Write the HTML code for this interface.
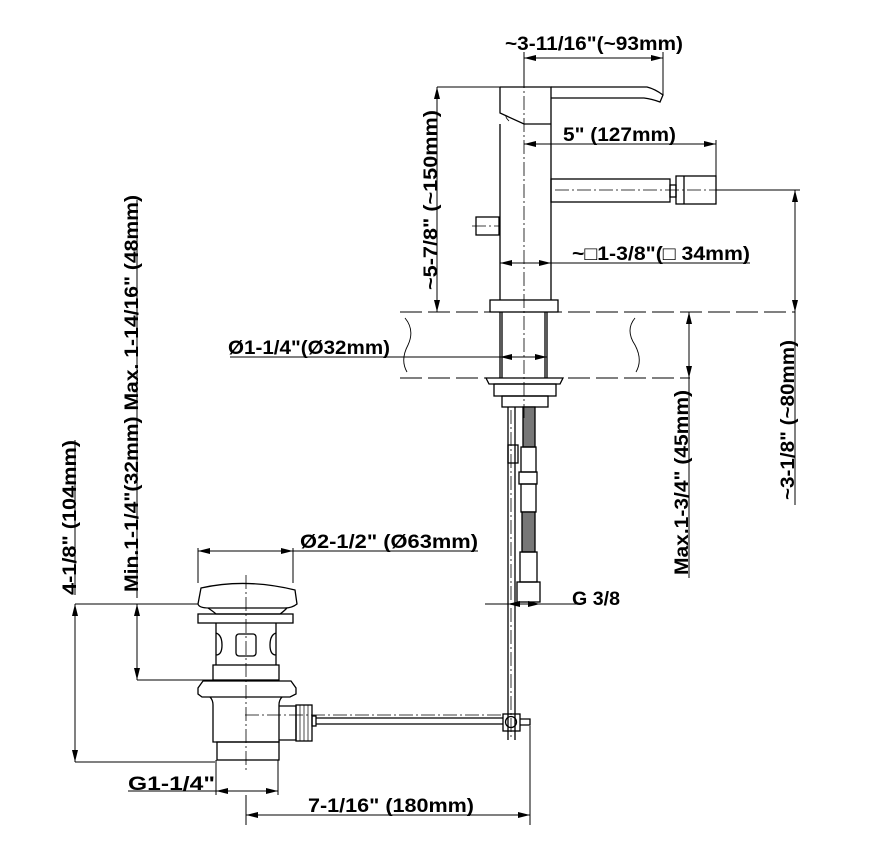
<!DOCTYPE html>
<html><head><meta charset="utf-8"><style>
html,body{margin:0;padding:0;background:#fff;}
svg{display:block}
text{font-family:"Liberation Sans",Arial,sans-serif;font-weight:bold;font-size:19px;fill:#000}
</style></head><body>
<svg width="885" height="850" viewBox="0 0 885 850" xmlns="http://www.w3.org/2000/svg">
<defs>
<marker id="a" viewBox="0 0 12 6" refX="12" refY="3" markerWidth="12" markerHeight="6" orient="auto-start-reverse" markerUnits="userSpaceOnUse"><path d="M0,0 L12,3 L0,6z" fill="#000"/></marker>
</defs>
<g fill="none" stroke="#000" stroke-width="1.3">
<path d="M500,87 H551 V300 M500,87 V113 L524,124 H551 M500,124 V300"/>
<path d="M551,87 H647 Q655,89 663,95 L660,102 Q652,99 644,98 H551"/>
<path d="M509,121 Q505,117 506,115" stroke-width="0.8"/>
<rect x="551" y="179" width="119" height="23"/>
<rect x="670" y="185" width="6" height="12"/>
<rect x="676" y="176" width="40" height="28"/>
<line x1="684" y1="176" x2="684" y2="204"/>
<rect x="476" y="217" width="23" height="18"/>
<rect x="490" y="300" width="68" height="12"/>
<path d="M500,312 V378 M502,312 V378 M545,312 V378 M547,312 V378"/>
<path d="M486,378 H563 L560,384 H489 Z"/>
<rect x="494" y="384" width="62" height="12"/>
<rect x="502" y="396" width="46" height="11"/>
<path d="M400,312 H795 M400,378 H690" stroke-dasharray="22,6" stroke-width="1"/>
<path d="M405,318 Q415,330 408,345 Q400,360 407,372 M635,318 Q625,330 635,345 Q643,360 636,372" stroke-width="0.9"/>
<path d="M508,407 V740 M515,407 V740"/>
<rect x="508" y="445" width="10" height="18"/>
<rect x="523" y="407" width="12" height="40" fill="#777" stroke="#000"/>
<rect x="521" y="447" width="15" height="25"/>
<rect x="519" y="472" width="18" height="12"/>
<rect x="521" y="484" width="15" height="28"/>
<rect x="522" y="512" width="13" height="40" fill="#777" stroke="#000"/>
<rect x="520" y="552" width="17" height="30"/>
<rect x="517" y="582" width="23" height="20"/>
<path d="M201,588 Q246,578 295,590 L297,604 Q292,608 285,608 H209 Q199,608 198,604 Z"/>
<path d="M208,608 Q214,612 216,614 H280 Q283,612 287,608"/>
<rect x="198" y="614" width="95" height="9"/>
<path d="M216,623 V665 M276,623 V665 M216,633 Q222,635 222,645 Q222,655 216,655 M276,633 Q270,635 270,645 Q270,655 276,655"/>
<rect x="236" y="634" width="20" height="22" rx="3"/>
<rect x="213" y="665" width="66" height="15"/>
<path d="M203,681 H291 L296,688 V694 L290,697 H202 L198,694 V688 Z"/>
<path d="M210,697 Q213,700 213,705 V742 H279 V705 Q279,700 282,697"/>
<rect x="217" y="742" width="62" height="18"/>
<path d="M279,706 H296 V740 H279"/>
<rect x="296" y="705" width="16" height="36"/>
<path d="M300,705 V741 M304,705 V741 M308,705 V741" stroke-width="0.7"/>
<rect x="312" y="716" width="4" height="10"/>
<path d="M316,718 H503 M316,724 H503"/>
<rect x="503" y="714" width="17" height="17"/>
<circle cx="511" cy="722" r="5.5"/>
<path d="M520,719 H530 V725 H520"/>
</g>
<g stroke="#000" stroke-width="0.8" stroke-dasharray="14,3,2,3" fill="none">
<path d="M524,52 V420 M555,190 H716 M472,226 H499 M246,575 V770 M245,715 H503 M511,410 V740"/>
</g>
<g stroke="#000" stroke-width="1" fill="none">
<path d="M524,52 V88 M663,52 V95 M716,140 V176 M437,87 H500 M716,190 H800 M750,263 H551 M230,357 H500 M485,604 H508 M540,604 H580 M198,548 V583 M293,548 V583 M75,604 H198 M75,762 H215 M137,680 H215 M246,795 V825 M530,726 V825 M216,760 V795 M278,760 V795 M795,312 V505 M689,378 V578"/>
<line x1="524" y1="58" x2="663" y2="58" marker-start="url(#a)" marker-end="url(#a)"/>
<line x1="524" y1="144" x2="716" y2="144" marker-start="url(#a)" marker-end="url(#a)"/>
<line x1="500" y1="263" x2="551" y2="263" marker-start="url(#a)" marker-end="url(#a)"/>
<line x1="437" y1="87" x2="437" y2="312" marker-start="url(#a)" marker-end="url(#a)"/>
<line x1="795" y1="190" x2="795" y2="312" marker-start="url(#a)" marker-end="url(#a)"/>
<line x1="689" y1="312" x2="689" y2="378" marker-start="url(#a)" marker-end="url(#a)"/>
<line x1="500" y1="357" x2="547" y2="357" marker-start="url(#a)" marker-end="url(#a)"/>
<line x1="508" y1="604" x2="540" y2="604" marker-start="url(#a)" marker-end="url(#a)"/>
<path d="M293,551 H478"/>
<line x1="198" y1="551" x2="293" y2="551" marker-start="url(#a)" marker-end="url(#a)"/>
<line x1="75" y1="604" x2="75" y2="762" marker-start="url(#a)" marker-end="url(#a)"/>
<line x1="137" y1="604" x2="137" y2="680" marker-start="url(#a)" marker-end="url(#a)"/>
<path d="M128,791 H216"/>
<line x1="216" y1="791" x2="278" y2="791" marker-start="url(#a)" marker-end="url(#a)"/>
<line x1="246" y1="815" x2="530" y2="815" marker-start="url(#a)" marker-end="url(#a)"/>
<line x1="75" y1="595" x2="75" y2="440"/>
<line x1="137" y1="598" x2="137" y2="200"/>
</g>
<g>
<text x="505" y="50" textLength="178" lengthAdjust="spacingAndGlyphs">~3-11/16"(~93mm)</text>
<text x="563" y="141" textLength="113" lengthAdjust="spacingAndGlyphs">5" (127mm)</text>
<text x="572" y="260" textLength="178" lengthAdjust="spacingAndGlyphs">~□1-3/8"(□ 34mm)</text>
<text x="228" y="354" textLength="162" lengthAdjust="spacingAndGlyphs">Ø1-1/4"(Ø32mm)</text>
<text x="572" y="605" textLength="48" lengthAdjust="spacingAndGlyphs">G 3/8</text>
<text x="300" y="548" textLength="178" lengthAdjust="spacingAndGlyphs">Ø2-1/2" (Ø63mm)</text>
<text x="128" y="790" textLength="87" lengthAdjust="spacingAndGlyphs">G1-1/4"</text>
<text x="308" y="812" textLength="166" lengthAdjust="spacingAndGlyphs">7-1/16" (180mm)</text>
<text transform="translate(437,290) rotate(-90)" textLength="180" lengthAdjust="spacingAndGlyphs">~5-7/8" (~150mm)</text>
<text transform="translate(794,500) rotate(-90)" textLength="160" lengthAdjust="spacingAndGlyphs">~3-1/8" (~80mm)</text>
<text transform="translate(688,575) rotate(-90)" textLength="185" lengthAdjust="spacingAndGlyphs">Max.1-3/4" (45mm)</text>
<text transform="translate(76,595) rotate(-90)" textLength="155" lengthAdjust="spacingAndGlyphs">4-1/8" (104mm)</text>
<text transform="translate(138,592) rotate(-90)" textLength="397" lengthAdjust="spacingAndGlyphs">Min.1-1/4"(32mm) Max. 1-14/16" (48mm)</text>
</g>
</svg>
</body></html>
